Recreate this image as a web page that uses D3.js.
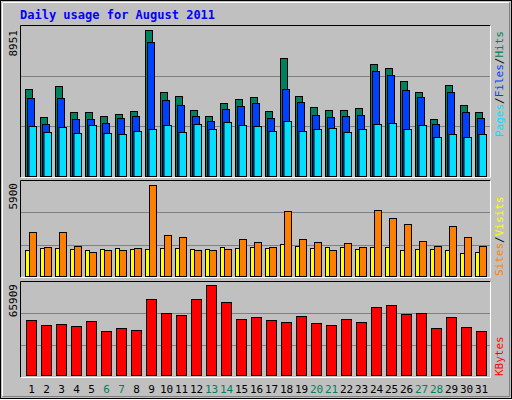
<!DOCTYPE html>
<html><head><meta charset="utf-8">
<script src="https://cdn.jsdelivr.net/npm/d3@7"></script>
<style>body{margin:0;background:#fff}text{font-family:"DejaVu Sans Mono",monospace}</style>
</head><body><svg id="chart" width="512" height="400"></svg>
<script>
var days = d3.range(1, 32);
var weekend = [6, 7, 13, 14, 20, 21, 27, 28];
var hits = [5315,3618,5496,3921,3921,3678,3800,3981,8951,5133,4890,4042,3678,4466,4709,4830,3981,7193,4890,4224,4042,4042,4163,6830,6587,5799,5133,3497,5557,4345,3921];
var files = [4769,3194,4769,3497,3497,3254,3557,3678,8163,4648,4345,3678,3375,4103,4284,4466,3557,5315,4527,3739,3618,3678,3739,6405,6163,5254,4830,3194,5133,3921,3557];
var pages = [3072,2709,3012,2648,3133,2648,2588,2769,2891,3133,2709,3194,2891,3315,3133,3072,2769,3375,2769,2891,2951,2709,2891,3194,3254,2891,3133,2406,2588,2406,2588];
var sites = [1667,1795,1795,1731,1667,1731,1795,1731,1731,1795,1795,1731,1731,1859,1795,1859,1795,2052,1923,1795,1859,1859,1731,1859,1859,1667,1731,1731,1667,1475,1539];
var visits = [2821,1859,2821,1923,1539,1667,1667,1795,5900,2629,2500,1667,1667,1731,2372,2180,1859,4167,2372,2180,1667,2116,1859,4231,3718,3334,2244,1923,3206,2500,1923];
var kbytes = [39831,36210,36934,35486,39107,31865,34037,32589,55039,44900,43452,55039,65909,52867,40555,42004,39831,38383,42728,37658,36210,40555,38383,49246,50694,44176,44900,34037,42004,34762,31865];

var svg = d3.select("#chart");
var x = d3.scaleBand().domain(days).range([25, 490]);

// frame
svg.append("rect").attr("x", 0.5).attr("y", 0.5).attr("width", 511).attr("height", 398).attr("fill", "#c0c0c0").attr("stroke", "#000");
svg.append("path").attr("d", "M2.5,396.5V2.5H509.5").attr("fill", "none").attr("stroke", "#fff");
svg.append("path").attr("d", "M2.5,396.5H509.5V2.5").attr("fill", "none").attr("stroke", "#808080");

svg.append("text").attr("x", 20).attr("y", 19).attr("fill", "#0000ff")
  .attr("font-size", 12).attr("font-weight", "bold").text("Daily usage for August 2011");

function panel(y0, y1) {
  svg.append("path").attr("d", "M20.5," + y1 + ".5V" + y0 + ".5H490.5").attr("fill", "none").attr("stroke", "#000");
  svg.append("path").attr("d", "M20.5," + y1 + ".5H490.5V" + y0 + ".5").attr("fill", "none").attr("stroke", "#fff");
  var h = (y1 - y0) / 3;
  [1, 2].forEach(function (k) {
    svg.append("line").attr("x1", 21).attr("x2", 490).attr("y1", Math.round(y0 + h * k) + 0.5)
      .attr("y2", Math.round(y0 + h * k) + 0.5).attr("stroke", "#808080");
  });
}
panel(25, 177);
panel(180, 277);
panel(281, 377);

function bars(data, y, off, w, color) {
  svg.append("g").selectAll("rect").data(data).enter().append("rect")
    .attr("x", function (d, i) { return x(days[i]) + off + 0.5; })
    .attr("y", function (d) { return Math.round(y(d)) + 0.5; })
    .attr("width", w)
    .attr("height", function (d) { return Math.round(y(0)) - Math.round(y(d)); })
    .attr("fill", color).attr("stroke", "#000");
}

var y1 = d3.scaleLinear().domain([0, 8951]).range([176, 29.5]);
bars(hits, y1, 0, 7, "#00805c");
bars(files, y1, 2, 7, "#0040ff");
bars(pages, y1, 3.5, 7.5, "#00e0ff");

var y2 = d3.scaleLinear().domain([0, 5900]).range([276, 184.5]);
bars(sites, y2, 0, 4, "#ffff00");
bars(visits, y2, 4, 7, "#ff8000");

var y3 = d3.scaleLinear().domain([0, 65909]).range([375, 284.5]);
bars(kbytes, y3, 1, 10, "#ff0000");

// y labels
function vlabel(t, yy) {
  svg.append("text").attr("transform", "translate(17," + yy + ") rotate(-90)")
    .attr("text-anchor", "end").attr("font-size", 11).attr("fill", "#000").text(t);
}
vlabel("8951", 30);
vlabel("5900", 183);
vlabel("65909", 284);

function legend(parts, ybottom) {
  var t = svg.append("text").attr("transform", "translate(503," + ybottom + ") rotate(-90)")
    .attr("font-size", 11);
  parts.forEach(function (p, i) {
    if (i > 0) t.append("tspan").attr("fill", "#000").text("/");
    t.append("tspan").attr("fill", p[1]).text(p[0]);
  });
}
legend([["Pages", "#00e0ff"], ["Files", "#0040ff"], ["Hits", "#00805c"]], 137);
legend([["Sites", "#ff8000"], ["Visits", "#ffff00"]], 276);
legend([["KBytes", "#ff0000"]], 376);

svg.append("g").selectAll("text").data(days).enter().append("text")
  .attr("x", function (d) { return x(d) + x.bandwidth() / 2 - 1; })
  .attr("y", 393).attr("text-anchor", "middle").attr("font-size", 11)
  .attr("font-family", "DejaVu Sans")
  .attr("fill", function (d) { return weekend.indexOf(d) >= 0 ? "#00805c" : "#000"; })
  .text(function (d) { return d; });
</script></body></html>
